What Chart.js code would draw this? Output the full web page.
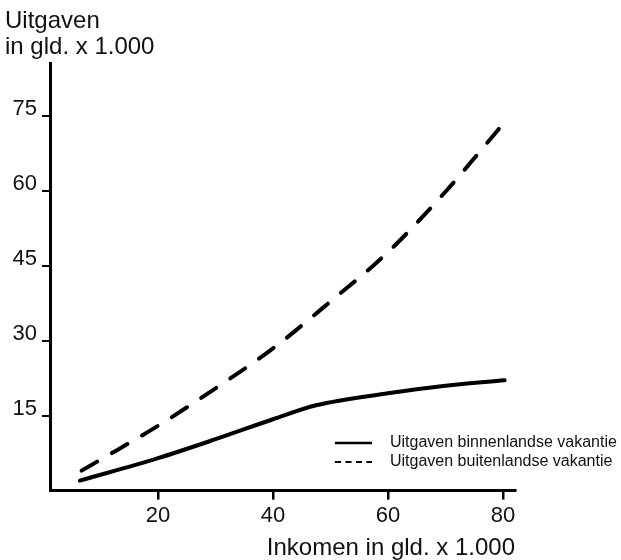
<!DOCTYPE html>
<html>
<head>
<meta charset="utf-8">
<script src="https://cdn.jsdelivr.net/npm/chart.js@4.4.1/dist/chart.umd.min.js"></script>
<style>
  html, body { margin: 0; padding: 0; background: #fff; }
  #myChart { display: block; }
</style>
</head>
<body>
<canvas id="myChart" width="621" height="560"></canvas>
<script>
// Uitgaven aan vakantie naar inkomen, in gld. x 1.000

var inkomenBinnen = [6.4, 20, 30, 40, 47.5, 60, 70, 80.3];
var uitgavenBinnen = [2.0, 6.5, 10.3, 14.3, 17.1, 19.5, 21.0, 22.1];

var inkomenBuiten = [6.7, 10, 20, 30, 40, 50, 60, 70, 79.3];
var uitgavenBuiten = [4.0, 6.2, 13.0, 20.5, 28.5, 37.9, 47.8, 59.9, 72.5];

var xTicks = [20, 40, 60, 80];
var yTicks = [15, 30, 45, 60, 75];

var seriesNames = ['Uitgaven binnenlandse vakantie', 'Uitgaven buitenlandse vakantie'];
var yTitle = ['Uitgaven', 'in gld. x 1.000'];
var xTitle = 'Inkomen in gld. x 1.000';

var fontFam = '"Liberation Sans", Arial, Helvetica, sans-serif';

function toPoints(xs, ys) {
  var pts = [];
  for (var i = 0; i < xs.length; i++) {
    pts.push({ x: xs[i], y: ys[i] });
  }
  return pts;
}

// legend sits inside the plot, lower right, and runs past the x axis end
var legendInside = {
  id: 'legendInside',
  afterDraw: function (chart) {
    var ctx = chart.ctx;
    var x = 335, y = 443, row = 19;
    chart.data.datasets.forEach(function (ds, i) {
      var yy = y + i * row;
      ctx.save();
      ctx.strokeStyle = ds.borderColor;
      ctx.lineWidth = i === 0 ? 2.7 : 2;
      ctx.setLineDash(i === 0 ? [] : [6, 4.5]);
      ctx.beginPath();
      ctx.moveTo(x, yy);
      ctx.lineTo(x + 37, yy);
      ctx.stroke();
      ctx.setLineDash([]);
      ctx.fillStyle = '#111';
      ctx.font = '16px ' + fontFam;
      ctx.textBaseline = 'middle';
      ctx.fillText(ds.label, x + 55, yy);
      ctx.restore();
    });
  }
};

var ctx = document.getElementById('myChart').getContext('2d');
var chart = new Chart(ctx, {
  type: 'line',
  data: {
    datasets: [{
      label: seriesNames[0],
      data: toPoints(inkomenBinnen, uitgavenBinnen),
      borderColor: '#000',
      borderWidth: 4,
      borderCapStyle: 'round',
      cubicInterpolationMode: 'monotone',
      pointRadius: 0,
      fill: false
    }, {
      label: seriesNames[1],
      data: toPoints(inkomenBuiten, uitgavenBuiten),
      borderColor: '#000',
      borderWidth: 4,
      borderDash: [18, 17],
      borderCapStyle: 'round',
      cubicInterpolationMode: 'monotone',
      pointRadius: 0,
      fill: false
    }]
  },
  options: {
    responsive: false,
    animation: false,
    layout: { padding: { left: 5, right: 106, top: 0, bottom: 0 } },
    plugins: {
      legend: { display: false },
      tooltip: { enabled: false },
      title: {
        display: true,
        text: yTitle,
        align: 'start',
        color: '#111',
        font: { family: fontFam, size: 24, weight: 'normal', lineHeight: '26px' },
        padding: { top: 8.5, bottom: 2.5 }
      }
    },
    scales: {
      x: {
        type: 'linear',
        min: 1.2,
        max: 82.1,
        afterBuildTicks: function (s) { s.ticks = xTicks.map(function (v) { return { value: v }; }); },
        border: { display: true, color: '#000', width: 3 },
        grid: { drawOnChartArea: false, drawTicks: true, tickLength: 9, color: '#000', lineWidth: 2.5 },
        ticks: { color: '#111', font: { family: fontFam, size: 22 }, padding: 3, maxRotation: 0 },
        title: {
          display: true,
          text: xTitle,
          align: 'end',
          color: '#111',
          font: { family: fontFam, size: 24, lineHeight: 1 },
          padding: { top: 4, bottom: 0 }
        }
      },
      y: {
        min: 0,
        max: 85.7,
        afterBuildTicks: function (s) { s.ticks = yTicks.map(function (v) { return { value: v }; }); },
        afterFit: function (s) { s.width = 45; },
        border: { display: true, color: '#000', width: 3 },
        grid: { drawOnChartArea: false, drawTicks: true, tickLength: 8, color: '#000', lineWidth: 2 },
        ticks: { color: '#111', font: { family: fontFam, size: 22 }, padding: 5, labelOffset: -7 }
      }
    }
  },
  plugins: [legendInside]
});
</script>
</body>
</html>
